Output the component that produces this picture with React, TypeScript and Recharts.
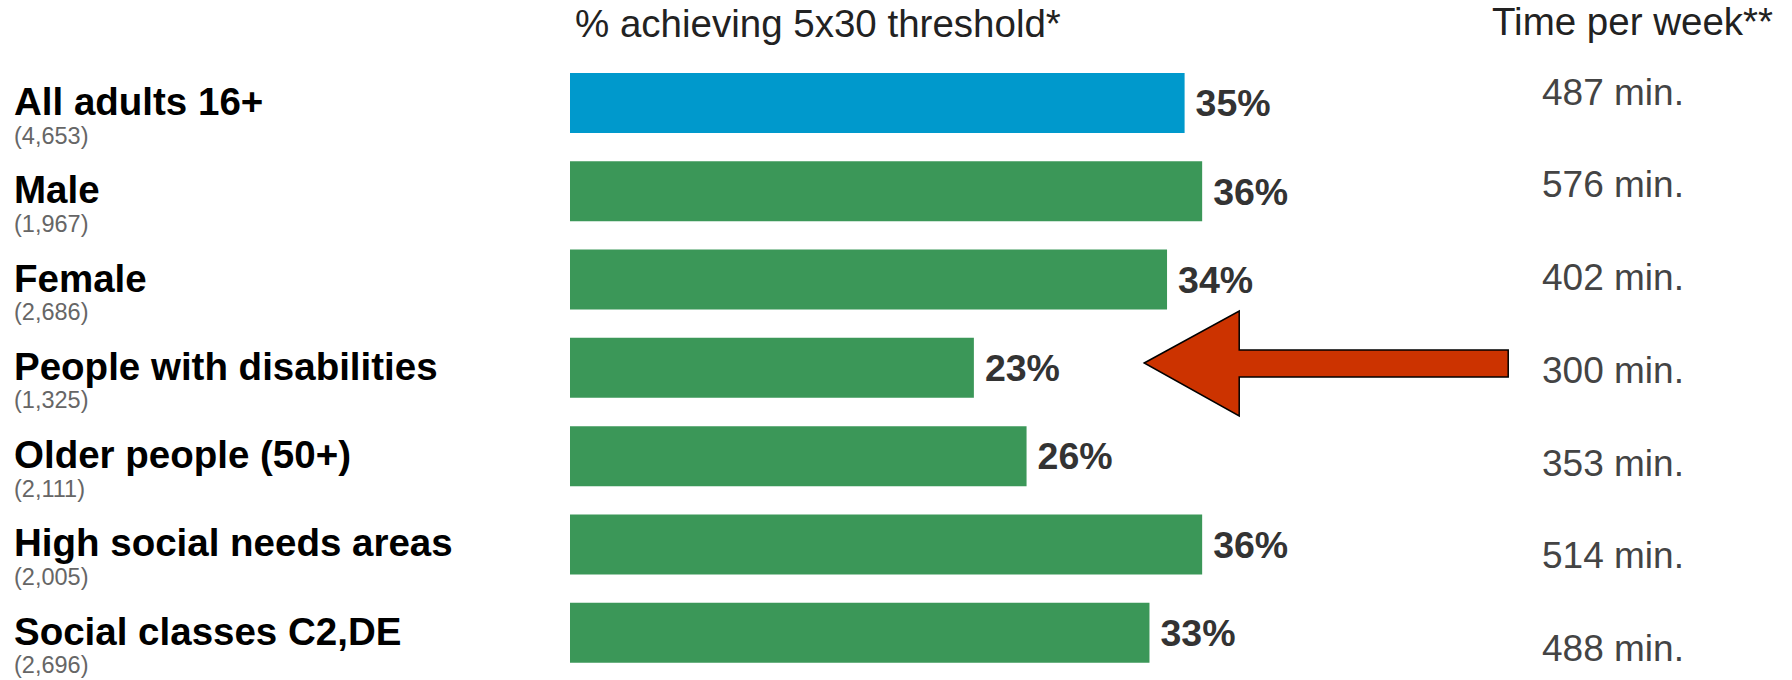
import { Bar, BarChart, Cell, LabelList, ReferenceDot, XAxis, YAxis } from "recharts";

const GROUPS = [
  "All adults 16+",
  "Male",
  "Female",
  "People with disabilities",
  "Older people (50+)",
  "High social needs areas",
  "Social classes C2,DE",
];
const SAMPLES = ["(4,653)", "(1,967)", "(2,686)", "(1,325)", "(2,111)", "(2,005)", "(2,696)"];
const PCT_5X30 = [35, 36, 34, 23, 26, 36, 33];
const MINUTES = [487, 576, 402, 300, 353, 514, 488];

const HIGHLIGHT = "People with disabilities";
const ARROW_AT = 32.7; // x position (in % units) of the arrow tip

const FONT = '"Liberation Sans", Arial, sans-serif';
const LEFT_W = 570;
const RIGHT_W = 344;

const data = GROUPS.map((group, i) => ({
  group,
  sample: SAMPLES[i],
  pct: PCT_5X30[i],
  minutes: MINUTES[i],
}));

function GroupTick(props: any) {
  const { x, y, payload, index } = props;
  const left = x - LEFT_W + 14;
  return (
    <g>
      <text x={left} y={y - 2} dy="0.36em" fontFamily={FONT} fontSize={38.5} fontWeight="bold" fill="#000">
        {payload.value}
      </text>
      <text x={left} y={y + 32} dy="0.36em" fontFamily={FONT} fontSize={23.5} fill="#666">
        {SAMPLES[index]}
      </text>
    </g>
  );
}

function MinutesTick(props: any) {
  const { x, y, payload } = props;
  return (
    <text x={x} y={y} dy="0.36em" fontFamily={FONT} fontSize={37} fill="#444">
      {`${payload.value} min.`}
    </text>
  );
}

function Arrow(props: any) {
  const { cx, cy } = props;
  const pts = [
    [cx, cy - 5],
    [cx + 95, cy - 57],
    [cx + 95, cy - 18],
    [cx + 364, cy - 18],
    [cx + 364, cy + 9],
    [cx + 95, cy + 9],
    [cx + 95, cy + 48],
  ]
    .map((p) => p.join(","))
    .join(" ");
  return <polygon points={pts} fill="#cc3300" stroke="#000" strokeWidth={1.5} strokeLinejoin="miter" />;
}

export default function App() {
  return (
    <div
      style={{
        position: "absolute",
        top: 0,
        left: 0,
        width: 1792,
        height: 680,
        overflow: "hidden",
        background: "#fff",
        fontFamily: FONT,
      }}
    >
      <div style={{ position: "absolute", left: 575, top: 5, fontSize: 38.5, lineHeight: "38px", color: "#222" }}>
        % achieving 5x30 threshold*
      </div>
      <div style={{ position: "absolute", left: 1492, top: 3, fontSize: 38.5, lineHeight: "38px", color: "#222" }}>
        Time per week**
      </div>
      <BarChart
        width={1792}
        height={700}
        data={data}
        layout="vertical"
        margin={{ top: 45, right: 0, bottom: 6, left: 0 }}
      >
        <XAxis type="number" domain={[0, 50]} hide />
        <YAxis
          yAxisId="left"
          type="category"
          dataKey="group"
          width={LEFT_W}
          padding={{ top: 14, bottom: 17 }}
          axisLine={false}
          tickLine={false}
          tickSize={0}
          tickMargin={0}
          tick={<GroupTick />}
          interval={0}
        />
        <YAxis
          yAxisId="right"
          orientation="right"
          type="category"
          dataKey="minutes"
          width={RIGHT_W}
          axisLine={false}
          tickLine={false}
          tickSize={0}
          tickMargin={94}
          tick={<MinutesTick />}
          interval={0}
        />
        <Bar yAxisId="left" dataKey="pct" barSize={60} isAnimationActive={false}>
          {data.map((d, i) => (
            <Cell key={d.group} fill={i === 0 ? "#0099cc" : "#3b9758"} />
          ))}
          <LabelList
            dataKey="pct"
            position="right"
            offset={11}
            formatter={(v: any) => `${v}%`}
            style={{ fontFamily: FONT, fontSize: 37.5, fontWeight: "bold", fill: "#333" }}
          />
        </Bar>
        <ReferenceDot yAxisId="left" x={ARROW_AT} y={HIGHLIGHT} r={1} shape={<Arrow />} />
      </BarChart>
    </div>
  );
}
